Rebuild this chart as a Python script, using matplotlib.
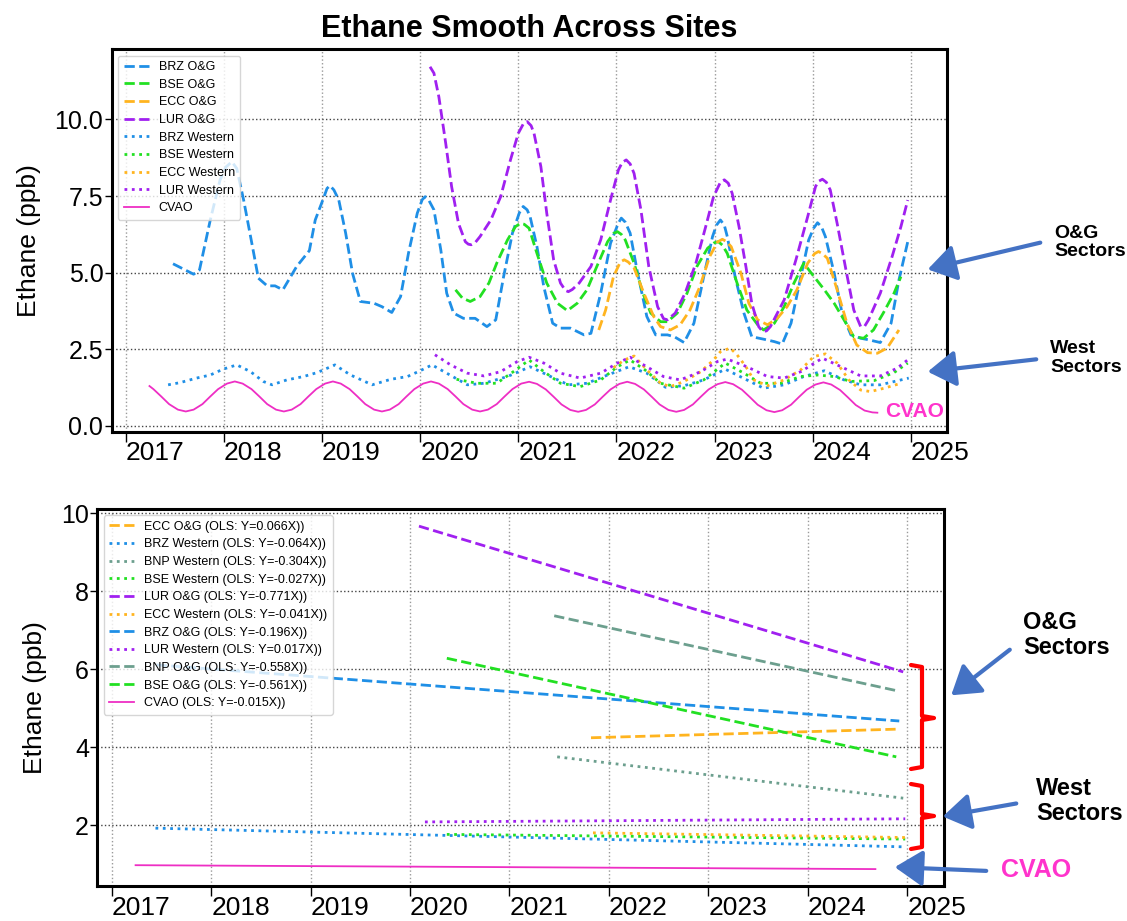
import numpy as np
import matplotlib
matplotlib.use("Agg")
import matplotlib.pyplot as plt
from matplotlib.patches import FancyArrowPatch
from matplotlib.lines import Line2D

plt.rcParams['font.family'] = ['Liberation Sans', 'DejaVu Sans']

W, H = 1127, 921

# ---------------- top panel: smoothed ethane (decimal year, ppb) ----------------
brz_og_x = [2017.48, 2017.69, 2017.75, 2017.86, 2017.96, 2018.02, 2018.08, 2018.13, 2018.20, 2018.29,
            2018.35, 2018.44, 2018.52, 2018.60, 2018.74, 2018.87, 2018.93, 2019.02, 2019.05, 2019.08,
            2019.12, 2019.17, 2019.24, 2019.31, 2019.39, 2019.53, 2019.61, 2019.71, 2019.80, 2019.88,
            2019.97, 2020.02, 2020.05, 2020.09, 2020.14, 2020.21, 2020.27, 2020.34, 2020.44, 2020.56,
            2020.68, 2020.77, 2020.85, 2020.94, 2021.01, 2021.05, 2021.09, 2021.12, 2021.19, 2021.26,
            2021.35, 2021.43, 2021.53, 2021.67, 2021.74, 2021.84, 2021.94, 2022.02, 2022.05, 2022.09,
            2022.14, 2022.21, 2022.31, 2022.40, 2022.52, 2022.59, 2022.69, 2022.79, 2022.89, 2022.98,
            2023.02, 2023.06, 2023.10, 2023.13, 2023.21, 2023.30, 2023.38, 2023.50, 2023.61, 2023.69,
            2023.78, 2023.88, 2023.96, 2024.01, 2024.05, 2024.09, 2024.13, 2024.22, 2024.30, 2024.39,
            2024.49, 2024.57, 2024.69, 2024.80, 2024.88, 2024.97]
brz_og_y = [5.29, 4.95, 5.09, 6.72, 8.03, 8.45, 8.62, 8.40, 7.37, 5.85,
            4.82, 4.57, 4.57, 4.44, 5.20, 5.72, 6.72, 7.48, 7.75, 7.84,
            7.70, 7.37, 6.29, 4.98, 4.06, 4.00, 3.89, 3.70, 4.22, 5.63,
            6.94, 7.38, 7.48, 7.35, 7.05, 5.74, 4.33, 3.68, 3.51, 3.51,
            3.24, 3.46, 4.87, 6.29, 6.95, 7.16, 7.05, 6.83, 5.85, 4.54,
            3.35, 3.19, 3.19, 2.97, 3.02, 4.33, 5.96, 6.62, 6.78, 6.65,
            6.29, 5.09, 3.57, 2.97, 2.97, 2.91, 2.72, 3.35, 4.87, 6.18,
            6.55, 6.72, 6.55, 6.18, 4.87, 3.68, 2.91, 2.83, 2.75, 2.67,
            3.35, 4.87, 6.07, 6.45, 6.63, 6.50, 6.18, 4.98, 3.68, 2.97,
            2.86, 2.81, 2.72, 3.35, 4.76, 6.01]

bse_og_x = [2020.36, 2020.43, 2020.51, 2020.61, 2020.70, 2020.78, 2020.89, 2020.97, 2021.02, 2021.06,
            2021.11, 2021.19, 2021.29, 2021.40, 2021.50, 2021.60, 2021.70, 2021.80, 2021.91, 2021.97,
            2022.01, 2022.05, 2022.09, 2022.18, 2022.27, 2022.35, 2022.45, 2022.52, 2022.62, 2022.72,
            2022.82, 2022.93, 2023.00, 2023.04, 2023.08, 2023.13, 2023.23, 2023.33, 2023.44, 2023.50,
            2023.61, 2023.71, 2023.81, 2023.91, 2024.00, 2024.12, 2024.22, 2024.32, 2024.42, 2024.52,
            2024.62, 2024.72, 2024.83, 2024.90]
bse_og_y = [4.44, 4.17, 4.06, 4.22, 4.66, 5.31, 6.07, 6.50, 6.61, 6.58,
            6.45, 5.63, 4.66, 4.00, 3.76, 4.00, 4.44, 5.20, 6.01, 6.28,
            6.34, 6.25, 6.07, 5.31, 4.33, 3.68, 3.40, 3.40, 3.68, 4.33,
            5.20, 5.80, 5.98, 6.01, 5.90, 5.63, 4.66, 3.78, 3.30, 3.13,
            3.35, 3.89, 4.66, 5.31, 4.93, 4.44, 4.00, 3.46, 2.91, 2.86,
            3.13, 3.68, 4.33, 4.87]

ecc_og_x = [2021.82, 2021.89, 2021.97, 2022.04, 2022.08, 2022.12, 2022.18, 2022.28, 2022.38, 2022.45,
            2022.55, 2022.65, 2022.75, 2022.85, 2022.95, 2023.03, 2023.08, 2023.12, 2023.17, 2023.27,
            2023.35, 2023.44, 2023.54, 2023.64, 2023.74, 2023.84, 2023.95, 2024.02, 2024.06, 2024.10,
            2024.15, 2024.25, 2024.35, 2024.45, 2024.56, 2024.66, 2024.76, 2024.88]
ecc_og_y = [3.13, 3.78, 4.87, 5.35, 5.42, 5.35, 5.15, 4.33, 3.57, 3.24,
            3.13, 3.30, 3.78, 4.54, 5.52, 6.00, 6.09, 6.02, 5.85, 4.98,
            4.00, 3.46, 3.30, 3.51, 3.89, 4.44, 5.31, 5.62, 5.69, 5.62,
            5.47, 4.44, 3.35, 2.64, 2.39, 2.37, 2.54, 3.13]

lur_og_x = [2020.10, 2020.14, 2020.19, 2020.26, 2020.32, 2020.39, 2020.46, 2020.49, 2020.52, 2020.56,
            2020.61, 2020.72, 2020.82, 2020.92, 2021.00, 2021.05, 2021.09, 2021.13, 2021.16, 2021.23,
            2021.29, 2021.36, 2021.43, 2021.48, 2021.51, 2021.55, 2021.62, 2021.74, 2021.84, 2021.94,
            2022.02, 2022.06, 2022.10, 2022.14, 2022.18, 2022.25, 2022.33, 2022.42, 2022.48, 2022.52,
            2022.60, 2022.70, 2022.81, 2022.91, 2022.99, 2023.06, 2023.10, 2023.14, 2023.18, 2023.25,
            2023.32, 2023.38, 2023.45, 2023.49, 2023.53, 2023.57, 2023.71, 2023.83, 2023.95, 2024.03,
            2024.06, 2024.10, 2024.14, 2024.18, 2024.25, 2024.34, 2024.42, 2024.49, 2024.53, 2024.57,
            2024.69, 2024.81, 2024.90, 2024.97]
lur_og_y = [11.72, 11.51, 10.74, 9.22, 7.81, 6.61, 6.01, 5.93, 5.91, 5.98,
            6.18, 6.72, 7.48, 8.68, 9.55, 9.85, 9.93, 9.80, 9.55, 8.46,
            6.94, 5.42, 4.66, 4.42, 4.38, 4.45, 4.66, 5.20, 6.07, 7.37,
            8.35, 8.60, 8.68, 8.55, 8.24, 7.05, 5.20, 3.89, 3.50, 3.46,
            3.68, 4.33, 5.31, 6.50, 7.48, 7.95, 8.03, 7.92, 7.59, 6.50,
            5.20, 4.00, 3.24, 3.08, 3.10, 3.24, 4.11, 5.42, 6.83, 7.81,
            7.98, 8.05, 7.95, 7.70, 6.61, 5.09, 3.78, 3.24, 3.25, 3.46,
            4.33, 5.52, 6.50, 7.37]

brz_w_x = [2017.43, 2017.55, 2017.72, 2017.86, 2017.99, 2018.13, 2018.27, 2018.40, 2018.49, 2018.64,
           2018.81, 2018.95, 2019.13, 2019.29, 2019.51, 2019.70, 2019.87, 2020.00, 2020.12, 2020.27,
           2020.48, 2020.65, 2020.89, 2021.12, 2021.33, 2021.51, 2021.70, 2021.91, 2022.13, 2022.31,
           2022.50, 2022.69, 2022.89, 2023.11, 2023.33, 2023.50, 2023.71, 2023.91, 2024.12, 2024.32,
           2024.49, 2024.69, 2024.98]
brz_w_y = [1.34, 1.41, 1.56, 1.66, 1.85, 1.99, 1.77, 1.45, 1.34, 1.50,
           1.61, 1.74, 1.99, 1.66, 1.34, 1.52, 1.61, 1.80, 1.99, 1.72,
           1.34, 1.39, 1.61, 1.93, 1.61, 1.34, 1.39, 1.66, 1.93, 1.72,
           1.26, 1.31, 1.50, 1.85, 1.50, 1.23, 1.34, 1.61, 1.80, 1.50,
           1.34, 1.34, 1.56]

bse_w_x = [2020.37, 2020.58, 2020.78, 2020.95, 2021.11, 2021.26, 2021.43, 2021.63, 2021.84, 2022.01,
           2022.14, 2022.29, 2022.45, 2022.69, 2022.89, 2023.11, 2023.30, 2023.47, 2023.67, 2023.88,
           2024.05, 2024.22, 2024.39, 2024.63, 2024.83, 2024.97]
bse_w_y = [1.52, 1.39, 1.39, 1.77, 2.15, 1.77, 1.39, 1.28, 1.50, 1.93,
           2.15, 1.83, 1.39, 1.23, 1.50, 2.05, 1.72, 1.39, 1.39, 1.61,
           1.66, 1.61, 1.45, 1.48, 1.74, 2.05]

ecc_w_x = [2021.97, 2022.08, 2022.18, 2022.31, 2022.45, 2022.55, 2022.69, 2022.86, 2022.99, 2023.06,
           2023.16, 2023.23, 2023.32, 2023.40, 2023.54, 2023.71, 2023.88, 2024.01, 2024.13, 2024.25,
           2024.37, 2024.49, 2024.59, 2024.73, 2024.90]
ecc_w_y = [1.90, 2.15, 2.28, 1.83, 1.39, 1.28, 1.45, 1.77, 2.15, 2.42,
           2.54, 2.32, 1.93, 1.50, 1.31, 1.50, 1.83, 2.26, 2.35, 2.05,
           1.50, 1.17, 1.12, 1.23, 1.39]

lur_w_x = [2020.15, 2020.31, 2020.48, 2020.65, 2020.82, 2020.99, 2021.11, 2021.26, 2021.43, 2021.63,
           2021.84, 2022.01, 2022.14, 2022.31, 2022.48, 2022.65, 2022.86, 2023.03, 2023.13, 2023.33,
           2023.54, 2023.71, 2023.88, 2024.10, 2024.29, 2024.49, 2024.69, 2024.86, 2024.98]
lur_w_y = [2.32, 1.99, 1.72, 1.63, 1.77, 2.10, 2.24, 2.05, 1.72, 1.56,
           1.72, 2.05, 2.24, 1.93, 1.61, 1.50, 1.77, 2.10, 2.18, 1.93,
           1.61, 1.56, 1.77, 2.21, 1.93, 1.63, 1.63, 1.88, 2.18]

cvao_x = [2017.24, 2017.28, 2017.36, 2017.44, 2017.53, 2017.61, 2017.69, 2017.78, 2017.86, 2017.94,
          2018.03, 2018.11, 2018.19, 2018.28, 2018.36, 2018.44, 2018.53, 2018.61, 2018.69, 2018.78, 2018.86, 2018.94,
          2019.03, 2019.11, 2019.19, 2019.28, 2019.36, 2019.44, 2019.53, 2019.61, 2019.69, 2019.78, 2019.86, 2019.94,
          2020.03, 2020.11, 2020.19, 2020.28, 2020.36, 2020.44, 2020.53, 2020.61, 2020.69, 2020.78, 2020.86, 2020.94,
          2021.03, 2021.11, 2021.19, 2021.28, 2021.36, 2021.44, 2021.53, 2021.61, 2021.69, 2021.78, 2021.86, 2021.94,
          2022.03, 2022.11, 2022.19, 2022.28, 2022.36, 2022.44, 2022.53, 2022.61, 2022.69, 2022.78, 2022.86, 2022.94,
          2023.03, 2023.11, 2023.19, 2023.28, 2023.36, 2023.44, 2023.53, 2023.61, 2023.69, 2023.78, 2023.86, 2023.94,
          2024.03, 2024.11, 2024.19, 2024.28, 2024.36, 2024.44, 2024.53, 2024.61, 2024.66]
cvao_y = [1.30, 1.20, 0.96, 0.71, 0.53, 0.47, 0.53, 0.71, 0.96, 1.20,
          1.38, 1.45, 1.38, 1.20, 0.96, 0.71, 0.53, 0.47, 0.53, 0.71, 0.96, 1.20,
          1.38, 1.45, 1.38, 1.20, 0.96, 0.71, 0.53, 0.47, 0.53, 0.71, 0.96, 1.20,
          1.38, 1.45, 1.38, 1.20, 0.96, 0.71, 0.53, 0.47, 0.53, 0.71, 0.96, 1.20,
          1.38, 1.44, 1.37, 1.19, 0.95, 0.70, 0.52, 0.46, 0.52, 0.70, 0.95, 1.19,
          1.37, 1.44, 1.37, 1.19, 0.95, 0.70, 0.52, 0.46, 0.52, 0.70, 0.95, 1.19,
          1.36, 1.43, 1.36, 1.18, 0.94, 0.69, 0.51, 0.45, 0.51, 0.69, 0.94, 1.18,
          1.35, 1.42, 1.35, 1.17, 0.93, 0.68, 0.50, 0.44, 0.43]

# ---------------- bottom panel: OLS trend lines (start/end) ----------------
ols_labels = ["ECC O&G", "BRZ Western", "BNP Western", "BSE Western", "LUR O&G", "ECC Western",
              "BRZ O&G", "LUR Western", "BNP O&G", "BSE O&G", "CVAO"]
ols_slopes = ["0.066", "-0.064", "-0.304", "-0.027", "-0.771", "-0.041",
              "-0.196", "0.017", "-0.558", "-0.561", "-0.015"]
ols_x0 = [2021.82, 2017.44, 2021.48, 2020.37, 2020.09, 2021.84, 2017.45, 2020.15, 2021.45, 2020.37, 2017.24]
ols_x1 = [2024.89, 2024.98, 2024.96, 2024.98, 2024.96, 2024.98, 2024.92, 2024.98, 2024.89, 2024.89, 2024.68]
ols_y0 = [4.24, 1.92, 3.75, 1.76, 9.67, 1.80, 6.11, 2.08, 7.37, 6.28, 0.97]
ols_y1 = [4.46, 1.44, 2.69, 1.64, 5.93, 1.68, 4.67, 2.16, 5.45, 3.75, 0.87]

colors = {"BRZ": "#1f8fe6", "BSE": "#22e022", "ECC": "#ffb41f", "LUR": "#a020f0",
          "BNP": "#6c9f8e", "CVAO": "#ee2ec4"}
arrow_blue = "#4472C4"


def style_axes(ax):
    for s in ax.spines.values():
        s.set_linewidth(2.2)
        s.set_color("black")
    ax.grid(axis="x", color="#9a9a9a", linestyle=":", linewidth=1)
    ax.grid(axis="y", color="#444444", linestyle=":", linewidth=1)
    ax.set_axisbelow(True)
    ax.set_xlim(2016.855, 2025.37)
    ax.set_xticks(range(2017, 2026))
    ax.tick_params(axis="x", labelsize=19, length=7, width=1, pad=0)
    ax.tick_params(axis="y", labelsize=18, length=5, width=1, pad=1)
    for lab in ax.get_xticklabels():
        lab.set_ha("left")
    ax.set_ylabel("Ethane (ppb)", fontsize=19, labelpad=10)


fig = plt.figure(figsize=(W / 100, H / 100), dpi=100)

# top panel
ax1 = fig.add_axes([111.7 / W, 1 - 431.7 / H, (947 - 111.7) / W, (431.7 - 49.3) / H])
lw = 2
ax1.plot(brz_og_x, brz_og_y, "--", color=colors["BRZ"], lw=lw, label="BRZ O&G")
ax1.plot(bse_og_x, bse_og_y, "--", color=colors["BSE"], lw=lw, label="BSE O&G")
ax1.plot(ecc_og_x, ecc_og_y, "--", color=colors["ECC"], lw=lw, label="ECC O&G")
ax1.plot(lur_og_x, lur_og_y, "--", color=colors["LUR"], lw=lw, label="LUR O&G")
ax1.plot(brz_w_x, brz_w_y, ":", color=colors["BRZ"], lw=lw, label="BRZ Western")
ax1.plot(bse_w_x, bse_w_y, ":", color=colors["BSE"], lw=lw, label="BSE Western")
ax1.plot(ecc_w_x, ecc_w_y, ":", color=colors["ECC"], lw=lw, label="ECC Western")
ax1.plot(lur_w_x, lur_w_y, ":", color=colors["LUR"], lw=lw, label="LUR Western")
ax1.plot(cvao_x, cvao_y, "-", color=colors["CVAO"], lw=1.3, label="CVAO")
ax1.set_ylim(-0.19, 12.29)
ax1.set_yticks([0, 2.5, 5, 7.5, 10])
ax1.set_yticklabels(["0.0", "2.5", "5.0", "7.5", "10.0"])
style_axes(ax1)
ax1.legend(loc="upper left", fontsize=9, labelspacing=0.45, handlelength=2.0,
           framealpha=0.8, borderpad=0.45)
ax1.set_title("Ethane Smooth Across Sites", fontsize=22, fontweight="bold", pad=9)

# bottom panel
ax2 = fig.add_axes([97.3 / W, 1 - 886 / H, (944 - 97.3) / W, (886 - 509) / H])
for i, name in enumerate(ols_labels):
    site = name.split()[0]
    if site == "CVAO":
        ls, lwi = "-", 1.3
    elif name.endswith("O&G"):
        ls, lwi = "--", lw
    else:
        ls, lwi = ":", lw
    ax2.plot([ols_x0[i], ols_x1[i]], [ols_y0[i], ols_y1[i]], linestyle=ls, lw=lwi,
             color=colors[site], label=f"{name} (OLS: Y={ols_slopes[i]}X))")
ax2.set_ylim(0.436, 10.11)
ax2.set_yticks([2, 4, 6, 8, 10])
style_axes(ax2)
ax2.legend(loc="upper left", fontsize=9, labelspacing=0.45, handlelength=2.0,
           framealpha=0.8, borderpad=0.45)


# ---------------- annotations (figure pixel positions) ----------------
def fp(x, y):
    return (x / W, 1 - y / H)


def blue_arrow(start, tip):
    fig.add_artist(FancyArrowPatch(fp(*start), fp(*tip), transform=fig.transFigure,
                                   arrowstyle="-|>,head_length=0.85,head_width=0.55",
                                   mutation_scale=20, color=arrow_blue, lw=3))


def bracket(top, bottom, mid):
    xs = [911, 922, 922, 934, 922, 922, 911]
    ys = [top, top + 2, mid - 2, mid, mid + 2, bottom - 2, bottom]
    pts = [fp(x, y) for x, y in zip(xs, ys)]
    fig.add_artist(Line2D([p[0] for p in pts], [p[1] for p in pts], transform=fig.transFigure,
                          color="red", lw=3, solid_joinstyle="round", solid_capstyle="round"))


# top panel labels
fig.text(*fp(1054, 242.5), "O&G\nSectors", fontsize=14, fontweight="bold", ha="left", va="center",
         linespacing=1.15)
blue_arrow((1043, 242), (925, 270))
fig.text(*fp(1050, 358), "West\nSectors", fontsize=14, fontweight="bold", ha="left", va="center",
         linespacing=1.15)
blue_arrow((1039, 359), (925, 372))
fig.text(*fp(885, 411), "CVAO", fontsize=15, fontweight="bold", color="#ff33cc", ha="left", va="center")

# bottom panel labels
bracket(665, 769, 718)
bracket(784, 849, 816)
fig.text(*fp(1023, 635), "O&G\nSectors", fontsize=17, fontweight="bold", ha="left", va="center",
         linespacing=1.15)
blue_arrow((1012, 648), (949, 697))
fig.text(*fp(1036, 801), "West\nSectors", fontsize=17, fontweight="bold", ha="left", va="center",
         linespacing=1.15)
blue_arrow((1019, 803), (940, 817))
fig.text(*fp(1001, 870), "CVAO", fontsize=18, fontweight="bold", color="#ff33cc", ha="left", va="center")
blue_arrow((989, 871), (892, 867))

fig.savefig("out.png", dpi=100)
